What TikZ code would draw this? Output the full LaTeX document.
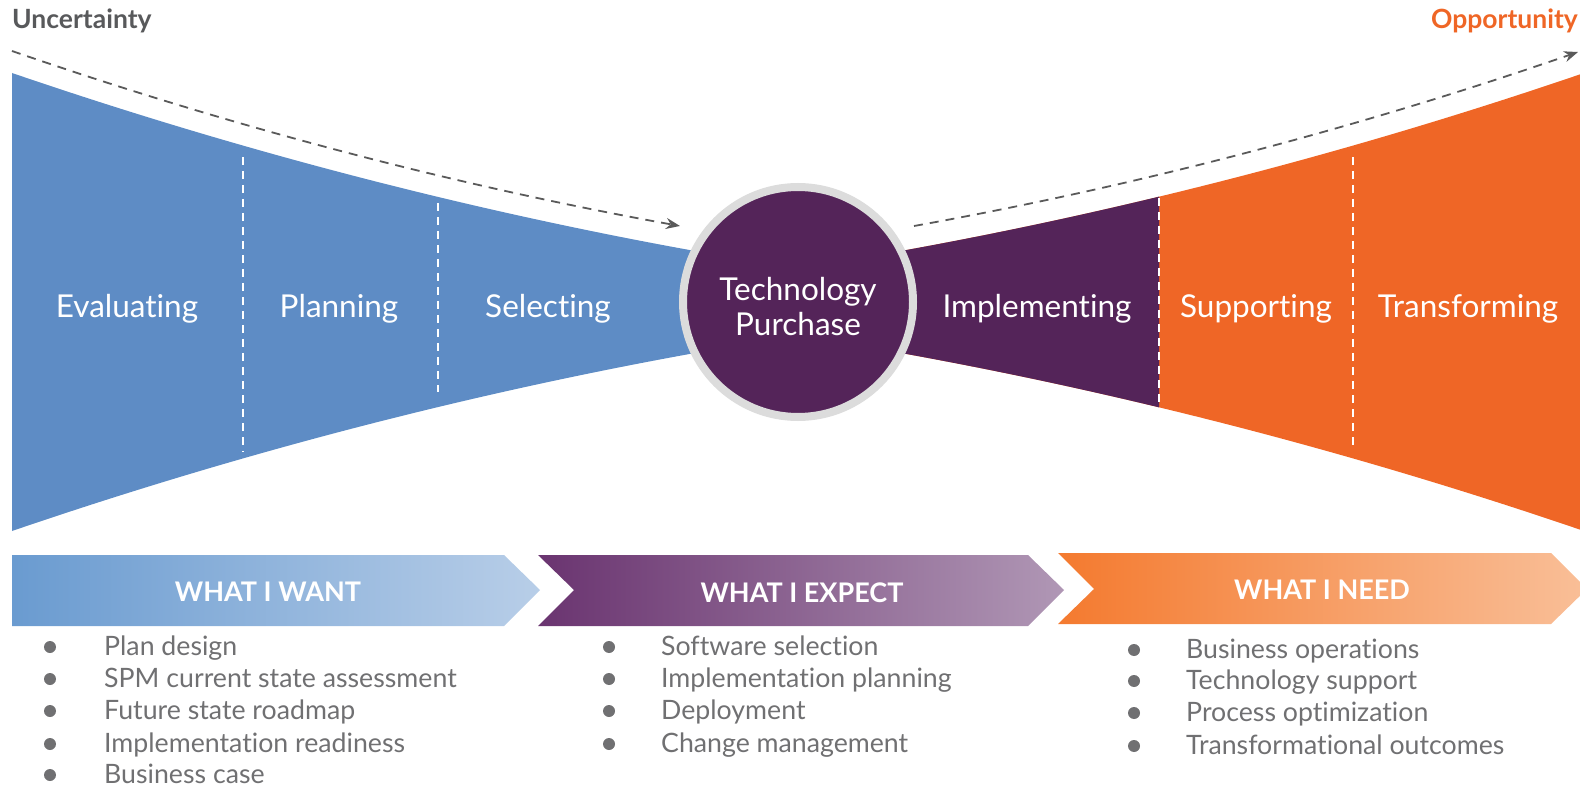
\documentclass[tikz,border=0pt]{standalone}
\usepackage{fontspec}
\setmainfont{Lato}[Ligatures=NoCommon]
\usetikzlibrary{arrows.meta}
\definecolor{funblue}{HTML}{5E8CC5}
\definecolor{funpurple}{HTML}{542459}
\definecolor{funorange}{HTML}{EF6626}
\definecolor{ringgray}{HTML}{DCDCDC}
\definecolor{dashgray}{HTML}{5A5A5A}
\definecolor{listgray}{HTML}{707072}
\definecolor{headgray}{HTML}{58595B}
\definecolor{bannerblueA}{HTML}{6A9BD0}
\definecolor{bannerblueB}{HTML}{B8CEE8}
\definecolor{bannerpurpleA}{HTML}{6A3470}
\definecolor{bannerpurpleB}{HTML}{B097B5}
\definecolor{bannerorangeA}{HTML}{F47A2F}
\definecolor{bannerorangeB}{HTML}{F9BF98}
% outlines of the two halves of the funnel
\def\leftfunnelpath{(12,73) .. controls (240,151) and (468,210) .. (695,251) -- (760,260) -- (760,344) -- (695,353) .. controls (468,394) and (240,453) .. (12,531) -- cycle}
\def\rightfunnelpath{(1584,73) .. controls (1356,151) and (1128,210) .. (901,251) -- (840,260) -- (840,344) -- (901,353) .. controls (1128,394) and (1356,453) .. (1584,531) -- cycle}
\begin{document}
\begin{tikzpicture}[x=1pt,y=-1pt,
  stagelabel/.style={text=white, font=\fontsize{31.5}{36}\selectfont, inner sep=0pt, anchor=base},
  divider/.style={white, line width=2pt, dash pattern=on 8pt off 6pt},
  trend/.style={dashgray, line width=1.8pt, dash pattern=on 9pt off 7pt, -{Stealth[length=14pt,width=11pt]}},
  headlabel/.style={font=\bfseries\fontsize{26.5}{30}\selectfont, inner sep=0pt},
  bannertext/.style={text=white, font=\bfseries\fontsize{27}{32}\selectfont, inner sep=0pt, anchor=base},
  listitem/.style={text=listgray, font=\fontsize{26.7}{30}\selectfont, inner sep=0pt, anchor=base west},
  dot/.style={circle, fill=listgray, minimum size=12pt, inner sep=0pt},
]
\useasboundingbox (0,0) rectangle (1580,786);

% funnel halves
\fill[funblue] \leftfunnelpath;
\fill[funorange] \rightfunnelpath;
\begin{scope}
  \clip (830,0) rectangle (1159,786);
  \fill[funpurple] \rightfunnelpath;
\end{scope}

% stage dividers
\draw[divider] (243,157) -- (243,452);
\draw[divider] (438,203) -- (438,392);
\draw[divider] (1159,198) -- (1159,402);
\draw[divider] (1353,157) -- (1353,450);

% central circle
\node[circle, fill=funpurple, draw=ringgray, line width=8pt, minimum size=230pt, inner sep=0pt] (purchase) at (798,302) {};
\node[stagelabel] (techA) at (798,301) {Technology};
\node[stagelabel] (techB) at (798,336) {Purchase};

% stage names
\node[stagelabel] (evaluating) at (127,318) {Evaluating};
\node[stagelabel] (planning) at (339,318) {Planning};
\node[stagelabel] (selecting) at (548,318) {Selecting};
\node[stagelabel] (implementing) at (1037,318) {Implementing};
\node[stagelabel] (supporting) at (1256,318) {Supporting};
\node[stagelabel] (transforming) at (1468,318) {Transforming};

% trend labels and dashed arrows
\node[headlabel, text=headgray, anchor=base west] (uncertainty) at (12,29) {Uncertainty};
\node[headlabel, text=funorange, anchor=base east] (opportunity) at (1578,29) {Opportunity};
\coordinate (uStart) at (12,51);
\coordinate (uEnd) at (680,226);
\coordinate (oStart) at (914,226);
\coordinate (oEnd) at (1578,52);
\draw[trend] (uStart) .. controls (235,128) and (458,186) .. (uEnd);
\draw[trend] (oStart) .. controls (1137,186) and (1358,128) .. (oEnd);

% banners
\shade[left color=bannerblueA, right color=bannerblueB]
  (12,555) -- (504,555) -- (540,590) -- (504,626) -- (12,626) -- cycle;
\shade[left color=bannerpurpleA, right color=bannerpurpleB]
  (538,555) -- (1028,555) -- (1064,590) -- (1028,626) -- (538,626) -- (574,590) -- cycle;
\shade[left color=bannerorangeA, right color=bannerorangeB]
  (1058,553) -- (1551,553) -- (1587,589) -- (1551,624) -- (1058,624) -- (1094,589) -- cycle;
\node[bannertext] (want) at (268,601) {WHAT I WANT};
\node[bannertext] (expect) at (802,602) {WHAT I EXPECT};
\node[bannertext] (need) at (1322,599) {WHAT I NEED};

% lists
\foreach \y/\t [count=\i] in {655/Plan design, 687/SPM current state assessment, 719/Future state roadmap, 752/Implementation readiness, 783/Business case}{
  \node[dot] (wantdot\i) at (50,\y-8) {};
  \node[listitem] (wantitem\i) at (104,\y) {\t};
}
\foreach \y/\t [count=\i] in {655/Software selection, 687/Implementation planning, 719/Deployment, 752/Change management}{
  \node[dot] (expectdot\i) at (609,\y-8) {};
  \node[listitem] (expectitem\i) at (661,\y) {\t};
}
\foreach \y/\t [count=\i] in {658/Business operations, 689/Technology support, 721/Process optimization, 754/Transformational outcomes}{
  \node[dot] (needdot\i) at (1134,\y-8) {};
  \node[listitem] (needitem\i) at (1186,\y) {\t};
}
\end{tikzpicture}
\end{document}
